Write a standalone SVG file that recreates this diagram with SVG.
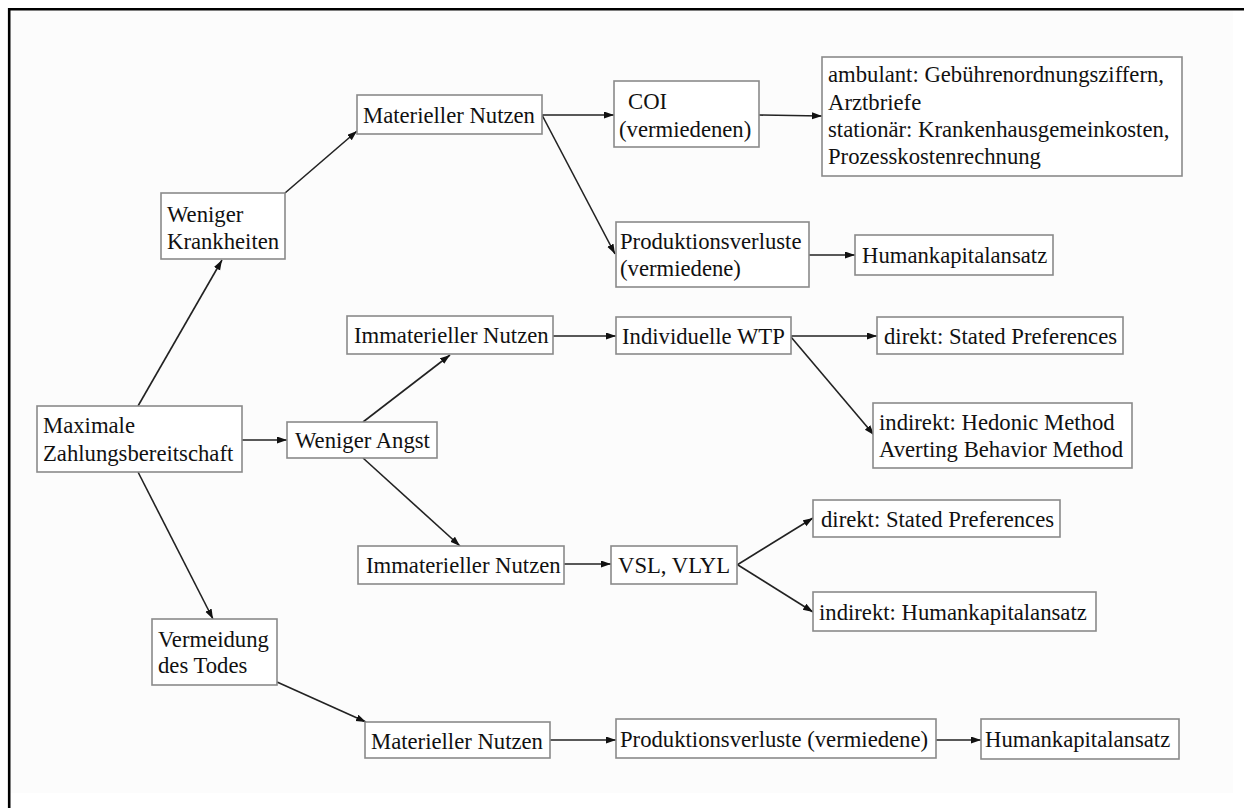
<svg xmlns="http://www.w3.org/2000/svg" width="1244" height="808" viewBox="0 0 1244 808">
<defs>
<marker id="arr" markerUnits="userSpaceOnUse" markerWidth="11" markerHeight="8" refX="10" refY="3.5" orient="auto">
<path d="M0,0 L10,3.5 L0,7 z" fill="#111"/>
</marker>
<style>
.box{fill:#fff;stroke:#8a8a8a;stroke-width:1.6}
.t{font-size:22.7px;fill:#111}
.c line{stroke:#222;stroke-width:1.6;marker-end:url(#arr)}
</style>
</defs>
<rect x="0" y="0" width="1244" height="808" fill="#fff"/>
<rect x="9" y="9" width="1224" height="784" fill="#fcfcfc"/>
<path d="M9.2,808 V9.2 H1244" fill="none" stroke="#000" stroke-width="2.6"/>

<g class="c" id="connectors">
<line x1="138" y1="406" x2="222" y2="260"/>
<line x1="242" y1="440" x2="287" y2="440"/>
<line x1="138" y1="472" x2="213" y2="619"/>
<line x1="285" y1="193" x2="357" y2="131"/>
<line x1="542" y1="115" x2="614" y2="115"/>
<line x1="542" y1="115" x2="615" y2="254"/>
<line x1="759" y1="115" x2="822" y2="116"/>
<line x1="809" y1="255" x2="855" y2="255"/>
<line x1="363" y1="422" x2="450" y2="355"/>
<line x1="363" y1="458" x2="460" y2="546"/>
<line x1="553" y1="336" x2="616" y2="336"/>
<line x1="791" y1="336" x2="877" y2="336"/>
<line x1="791" y1="337" x2="874" y2="435"/>
<line x1="564" y1="564" x2="611" y2="564"/>
<line x1="737" y1="565" x2="813" y2="518"/>
<line x1="738" y1="565" x2="813" y2="612"/>
<line x1="277" y1="682" x2="366" y2="722"/>
<line x1="550" y1="740" x2="616" y2="740"/>
<line x1="936" y1="740" x2="981" y2="740"/>
</g>

<g font-family="Liberation Serif, DejaVu Serif, serif">
<g id="n-max"><rect class="box" x="37" y="406" width="205" height="66"/><text class="t" x="43" y="433">Maximale</text><text class="t" x="43" y="461">Zahlungsbereitschaft</text></g>
<g id="n-angst"><rect class="box" x="287" y="422" width="150" height="36"/><text class="t" x="295" y="448">Weniger Angst</text></g>
<g id="n-krank"><rect class="box" x="161" y="193" width="124" height="66"/><text class="t" x="167" y="222">Weniger</text><text class="t" x="167" y="249">Krankheiten</text></g>
<g id="n-mat1"><rect class="box" x="357" y="95" width="185" height="39"/><text class="t" x="363" y="123">Materieller Nutzen</text></g>
<g id="n-coi"><rect class="box" x="614" y="81" width="145" height="66"/><text class="t" x="628" y="109">COI</text><text class="t" x="619" y="137">(vermiedenen)</text></g>
<g id="n-amb"><rect class="box" x="822" y="57" width="360" height="119"/><text class="t" x="828" y="82">ambulant: Gebührenordnungsziffern,</text><text class="t" x="828" y="110">Arztbriefe</text><text class="t" x="828" y="137">stationär: Krankenhausgemeinkosten,</text><text class="t" x="828" y="164">Prozesskostenrechnung</text></g>
<g id="n-prod1"><rect class="box" x="616" y="222" width="193" height="65"/><text class="t" x="620" y="249">Produktionsverluste</text><text class="t" x="620" y="276">(vermiedene)</text></g>
<g id="n-hum1"><rect class="box" x="855" y="235" width="198" height="40"/><text class="t" x="862" y="263">Humankapitalansatz</text></g>
<g id="n-imm1"><rect class="box" x="347" y="316" width="206" height="38"/><text class="t" x="354" y="343">Immaterieller Nutzen</text></g>
<g id="n-wtp"><rect class="box" x="616" y="317" width="175" height="37"/><text class="t" x="622" y="344">Individuelle WTP</text></g>
<g id="n-dir1"><rect class="box" x="877" y="317" width="246" height="37"/><text class="t" x="884" y="344">direkt: Stated Preferences</text></g>
<g id="n-ind1"><rect class="box" x="873" y="403" width="259" height="65"/><text class="t" x="879" y="430">indirekt: Hedonic Method</text><text class="t" x="879" y="457">Averting Behavior Method</text></g>
<g id="n-imm2"><rect class="box" x="358" y="546" width="206" height="38"/><text class="t" x="366" y="573">Immaterieller Nutzen</text></g>
<g id="n-vsl"><rect class="box" x="611" y="546" width="126" height="38"/><text class="t" x="618" y="573">VSL, VLYL</text></g>
<g id="n-dir2"><rect class="box" x="813" y="500" width="247" height="37"/><text class="t" x="821" y="527">direkt: Stated Preferences</text></g>
<g id="n-ind2"><rect class="box" x="813" y="592" width="283" height="39"/><text class="t" x="819" y="620">indirekt: Humankapitalansatz</text></g>
<g id="n-tod"><rect class="box" x="152" y="619" width="125" height="66"/><text class="t" x="158" y="647">Vermeidung</text><text class="t" x="158" y="673">des Todes</text></g>
<g id="n-mat2"><rect class="box" x="365" y="722" width="185" height="36"/><text class="t" x="371" y="749">Materieller Nutzen</text></g>
<g id="n-prod2"><rect class="box" x="616" y="719" width="320" height="39"/><text class="t" x="620" y="747">Produktionsverluste (vermiedene)</text></g>
<g id="n-hum2"><rect class="box" x="981" y="719" width="198" height="40"/><text class="t" x="985" y="747">Humankapitalansatz</text></g>
</g>
</svg>
